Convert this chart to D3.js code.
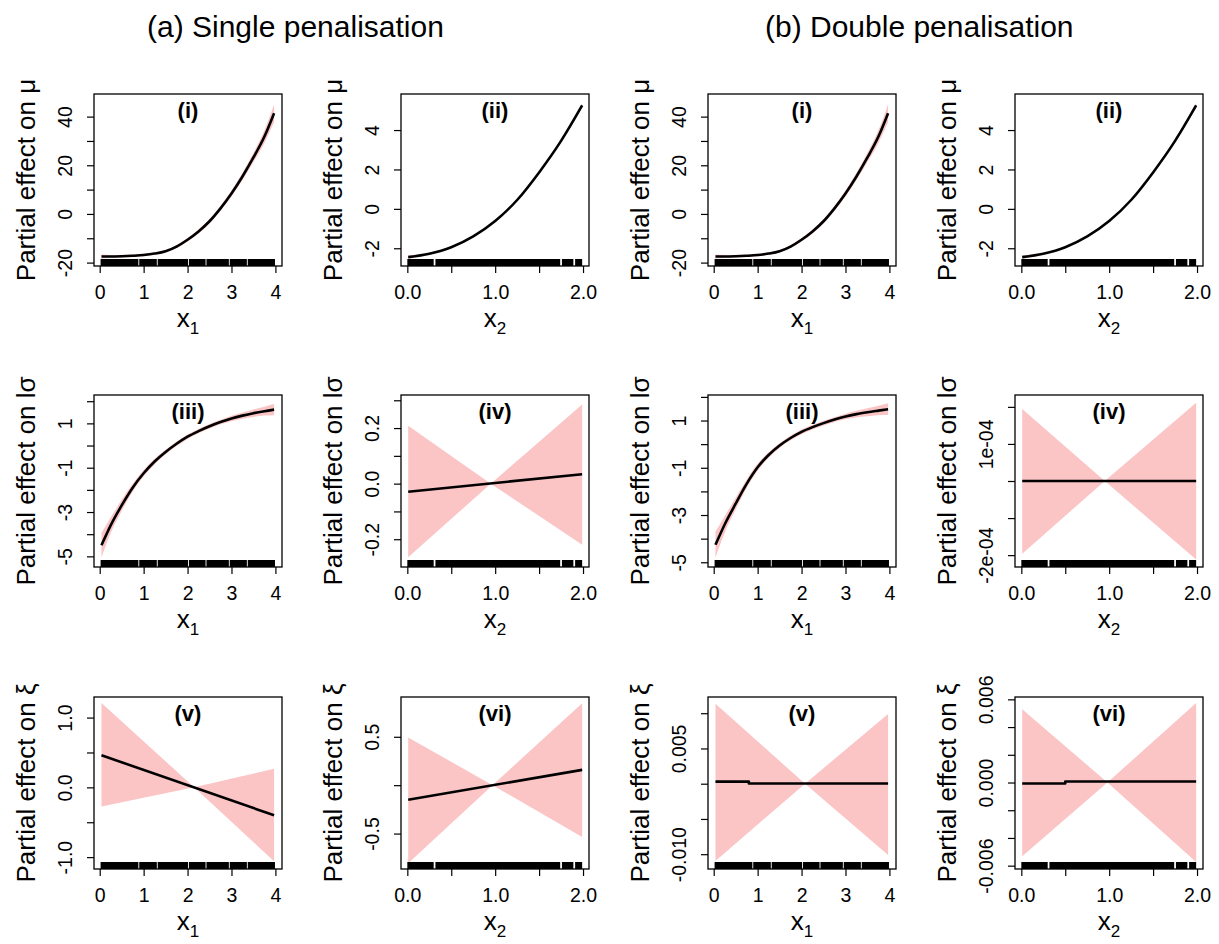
<!DOCTYPE html>
<html>
<head>
<meta charset="utf-8">
<script src="https://cdn.jsdelivr.net/npm/d3@7"></script>
<style>
  body { margin: 0; background: #fff; }
  svg { display: block; }
  text { font-family: "Liberation Sans", Arial, Helvetica, sans-serif; fill: #000; }
</style>
</head>
<body>
<svg id="fig" width="1219" height="944"></svg>
<script>
// ---------- data ----------
// evaluation grid for the smooth effects of x1 and x2
const x1Grid = [0.04, 0.25, 0.5, 0.75, 1, 1.25, 1.5, 1.75, 2, 2.25, 2.5, 2.75, 3, 3.25, 3.5, 3.75, 3.97];
const x2Grid = [0.01, 0.25, 0.5, 0.75, 1, 1.25, 1.5, 1.75, 1.99];

// (i) effect of x1 on mu: fit and half-width of the band
const muX1Fit = [-17.5, -17.5, -17.4, -17.2, -16.9, -16.3, -15.3, -13.4, -10.6, -7.2, -3.0, 2.3, 8.4, 15.4, 23.2, 31.8, 41.4];
const muX1Hw  = [0.8, 0.6, 0.5, 0.5, 0.5, 0.5, 0.5, 0.6, 0.7, 0.8, 0.9, 1.0, 1.2, 1.5, 1.9, 2.6, 3.6];
// (ii) effect of x2 on mu
const muX2Fit = [-2.45, -2.28, -1.95, -1.4, -0.62, 0.45, 1.85, 3.45, 5.25];
const muX2Hw  = [0.08, 0.05, 0.04, 0.04, 0.04, 0.04, 0.05, 0.07, 0.12];
// (iii) effect of x1 on log sigma, single and double penalisation
const sigX1FitS = [-4.5, -3.6, -2.7, -1.9, -1.25, -0.72, -0.29, 0.08, 0.4, 0.65, 0.87, 1.06, 1.22, 1.35, 1.46, 1.55, 1.62];
const sigX1FitD = [-4.26, -3.4, -2.52, -1.68, -0.98, -0.46, -0.06, 0.26, 0.52, 0.72, 0.89, 1.04, 1.17, 1.27, 1.35, 1.42, 1.48];
const sigX1Hw   = [0.55, 0.35, 0.25, 0.18, 0.15, 0.12, 0.1, 0.1, 0.1, 0.1, 0.1, 0.1, 0.12, 0.14, 0.17, 0.2, 0.25];

// linear effects: band (x, lower, upper) and fitted line (x, fit)
const sigX2S = { bx: [0.01, 0.95, 1.99], lo: [-0.265, 0, -0.22], hi: [0.208, 0, 0.285],
                 lx: [0.01, 1.99], fit: [-0.029, 0.034] };
const sigX2D = { bx: [0.01, 0.95, 1.99], lo: [-1.96e-4, 0, -2.12e-4], hi: [1.945e-4, 0, 2.11e-4],
                 lx: [0.01, 1.99], fit: [0, 0] };
const xiX1S  = { bx: [0.04, 2.15, 3.97], lo: [-0.275, 0, -1.06], hi: [1.21, 0, 0.266],
                 lx: [0.04, 3.97], fit: [0.46, -0.40] };
const xiX1D  = { bx: [0.04, 2.08, 3.97], lo: [-0.01095, 0, -0.0101], hi: [0.01133, 0, 0.0099],
                 lx: [0.04, 0.8, 0.8, 3.97], fit: [0.0003, 0.0003, 0.00002, 0.00002] };
const xiX2S  = { bx: [0.01, 0.97, 1.99], lo: [-0.806, 0, -0.535], hi: [0.493, 0, 0.847],
                 lx: [0.01, 1.99], fit: [-0.151, 0.158] };
const xiX2D  = { bx: [0.01, 0.98, 1.99], lo: [-0.00532, 0, -0.00573], hi: [0.00529, 0, 0.00573],
                 lx: [0.01, 0.5, 0.5, 1.99], fit: [-0.00007, -0.00007, 0.00007, 0.00007] };

// observed covariate values (rug), as runs of closely spaced observations
const rugX1 = [[0.02, 0.88], [0.9, 1.3], [1.32, 2.01], [2.03, 2.41], [2.43, 2.94], [2.96, 3.35], [3.37, 3.99]];
const rugX2 = [[0.0, 0.3], [0.32, 1.74], [1.76, 1.89], [1.91, 1.99]];

// axis limits
const x1Lim = [-0.13, 4.15];
const x2Lim = [-0.072, 2.068];

// tick values and labels (blank where the label is suppressed)
const x1Ticks = [0, 1, 2, 3, 4];
const x1TickLabels = ["0", "1", "2", "3", "4"];
const x2Ticks = [0, 0.5, 1, 1.5, 2];
const x2TickLabels = ["0.0", "", "1.0", "", "2.0"];

const colTitles = ["(a) Single penalisation", "(b) Double penalisation"];
const paramNames = ["μ", "lσ", "ξ"];

// ---------- panel specifications ----------
function smooth(xs, fit, hw) {
  return { bx: xs, lo: fit.map((f, i) => f - hw[i]), hi: fit.map((f, i) => f + hw[i]),
           lx: xs, fit: fit, smooth: true };
}

const panels = [
  // single penalisation
  { row: 0, col: 0, tag: "(i)",   v: 1, d: smooth(x1Grid, muX1Fit, muX1Hw), yLim: [-21.4, 49.3],
    yTicks: [-20, -10, 0, 10, 20, 30, 40], yLabels: ["-20", "", "0", "", "20", "", "40"] },
  { row: 0, col: 1, tag: "(ii)",  v: 2, d: smooth(x2Grid, muX2Fit, muX2Hw), yLim: [-2.9, 5.83],
    yTicks: [-2, 0, 2, 4], yLabels: ["-2", "0", "2", "4"] },
  { row: 1, col: 0, tag: "(iii)", v: 1, d: smooth(x1Grid, sigX1FitS, sigX1Hw), yLim: [-5.48, 2.28],
    yTicks: [-5, -4, -3, -2, -1, 0, 1, 2], yLabels: ["-5", "", "-3", "", "-1", "", "1", ""] },
  { row: 1, col: 1, tag: "(iv)",  v: 2, d: sigX2S, yLim: [-0.3, 0.319],
    yTicks: [-0.2, -0.1, 0, 0.1, 0.2, 0.3], yLabels: ["-0.2", "", "0.0", "", "0.2", ""] },
  { row: 2, col: 0, tag: "(v)",   v: 1, d: xiX1S, yLim: [-1.17, 1.295],
    yTicks: [-1, -0.5, 0, 0.5, 1], yLabels: ["-1.0", "", "0.0", "", "1.0"] },
  { row: 2, col: 1, tag: "(vi)",  v: 2, d: xiX2S, yLim: [-0.866, 0.911],
    yTicks: [-0.5, 0, 0.5], yLabels: ["-0.5", "", "0.5"] },
  // double penalisation
  { row: 0, col: 2, tag: "(i)",   v: 1, d: smooth(x1Grid, muX1Fit, muX1Hw), yLim: [-21.4, 49.3],
    yTicks: [-20, -10, 0, 10, 20, 30, 40], yLabels: ["-20", "", "0", "", "20", "", "40"] },
  { row: 0, col: 3, tag: "(ii)",  v: 2, d: smooth(x2Grid, muX2Fit, muX2Hw), yLim: [-2.9, 5.83],
    yTicks: [-2, 0, 2, 4], yLabels: ["-2", "0", "2", "4"] },
  { row: 1, col: 2, tag: "(iii)", v: 1, d: smooth(x1Grid, sigX1FitD, sigX1Hw), yLim: [-5.2, 2.08],
    yTicks: [-5, -4, -3, -2, -1, 0, 1, 2], yLabels: ["-5", "", "-3", "", "-1", "", "1", ""] },
  { row: 1, col: 3, tag: "(iv)",  v: 2, d: sigX2D, yLim: [-2.32e-4, 2.32e-4],
    yTicks: [-2e-4, -1e-4, 0, 1e-4, 2e-4], yLabels: ["-2e-04", "", "", "1e-04", ""] },
  { row: 2, col: 2, tag: "(v)",   v: 1, d: xiX1D, yLim: [-0.0121, 0.0123],
    yTicks: [-0.01, -0.005, 0, 0.005, 0.01], yLabels: ["-0.010", "", "", "0.005", ""] },
  { row: 2, col: 3, tag: "(vi)",  v: 2, d: xiX2D, yLim: [-0.00624, 0.00617],
    yTicks: [-0.006, -0.004, -0.002, 0, 0.002, 0.004, 0.006],
    yLabels: ["-0.006", "", "", "0.000", "", "", "0.006"] }
];

// ---------- layout ----------
const boxLeft = [94, 401, 708, 1015];
const boxTop = [94, 395, 697];
const W = 188, H = 172;
const bandColor = "#fbc5c6";

const svg = d3.select("#fig");

svg.selectAll("text.coltitle").data(colTitles).join("text")
  .attr("class", "coltitle")
  .attr("x", (d, i) => [147, 765][i])
  .attr("y", 37)
  .attr("font-size", 30)
  .text(d => d);

panels.forEach((p, idx) => {
  const L = boxLeft[p.col], T = boxTop[p.row];
  const g = svg.append("g").attr("transform", `translate(${L},${T})`);

  const xs = d3.scaleLinear().domain(p.v === 1 ? x1Lim : x2Lim).range([0, W]);
  const ys = d3.scaleLinear().domain(p.yLim).range([H, 0]);

  const clipId = "clip" + idx;
  g.append("clipPath").attr("id", clipId)
    .append("rect").attr("width", W).attr("height", H);
  const plot = g.append("g").attr("clip-path", `url(#${clipId})`);

  // confidence band
  const bandPts = p.d.bx.map((x, i) => ({ x, lo: p.d.lo[i], hi: p.d.hi[i] }));
  const area = d3.area().x(d => xs(d.x)).y0(d => ys(d.lo)).y1(d => ys(d.hi));
  if (p.d.smooth) area.curve(d3.curveMonotoneX);
  plot.append("path").attr("d", area(bandPts)).attr("fill", bandColor).attr("stroke", "none");

  // fitted effect
  const linePts = p.d.lx.map((x, i) => ({ x, y: p.d.fit[i] }));
  const line = d3.line().x(d => xs(d.x)).y(d => ys(d.y));
  if (p.d.smooth) line.curve(d3.curveMonotoneX);
  plot.append("path").attr("d", line(linePts))
    .attr("fill", "none").attr("stroke", "#000").attr("stroke-width", 2.6)
    .attr("stroke-linejoin", "round");

  // rug of observed covariate values
  const rug = p.v === 1 ? rugX1 : rugX2;
  plot.selectAll("rect.rug").data(rug).join("rect")
    .attr("class", "rug")
    .attr("x", d => xs(d[0])).attr("width", d => xs(d[1]) - xs(d[0]))
    .attr("y", H - 7).attr("height", 7).attr("fill", "#000");

  // box
  g.append("rect").attr("width", W).attr("height", H)
    .attr("fill", "none").attr("stroke", "#000").attr("stroke-width", 1.3);

  // x axis
  const xTicks = p.v === 1 ? x1Ticks : x2Ticks;
  const xLabels = p.v === 1 ? x1TickLabels : x2TickLabels;
  const xAx = g.append("g").attr("transform", `translate(0,${H})`)
    .call(d3.axisBottom(xs).tickValues(xTicks).tickFormat((d, i) => xLabels[i]).tickSize(7));
  xAx.select(".domain").remove();
  xAx.selectAll(".tick line").attr("stroke", "#000").attr("stroke-width", 1.2);
  xAx.selectAll(".tick text")
    .attr("y", 33).attr("dy", null)
    .attr("font-size", 19.5).attr("font-family", null).attr("fill", "#000");

  // y axis with labels parallel to the axis
  const yAx = g.append("g")
    .call(d3.axisLeft(ys).tickValues(p.yTicks).tickFormat((d, i) => p.yLabels[i]).tickSize(7));
  yAx.select(".domain").remove();
  yAx.selectAll(".tick line").attr("stroke", "#000").attr("stroke-width", 1.2);
  yAx.selectAll(".tick text")
    .attr("transform", "rotate(-90)")
    .attr("x", 0).attr("y", -22).attr("dy", null)
    .attr("text-anchor", "middle")
    .attr("font-size", 19.5).attr("font-family", null).attr("fill", "#000");

  // panel tag
  g.append("text").attr("x", W / 2).attr("y", 24)
    .attr("text-anchor", "middle").attr("font-size", 22).attr("font-weight", "bold")
    .text(p.tag);

  // axis titles
  const xt = g.append("text").attr("x", W / 2).attr("y", H + 61)
    .attr("text-anchor", "middle").attr("font-size", 26);
  xt.append("tspan").text("x");
  xt.append("tspan").attr("font-size", 17).attr("dy", 7).text(String(p.v));

  g.append("text")
    .attr("transform", `translate(-59,${H / 2}) rotate(-90)`)
    .attr("text-anchor", "middle").attr("font-size", 26)
    .text("Partial effect on " + paramNames[p.row]);
});
</script>
</body>
</html>
